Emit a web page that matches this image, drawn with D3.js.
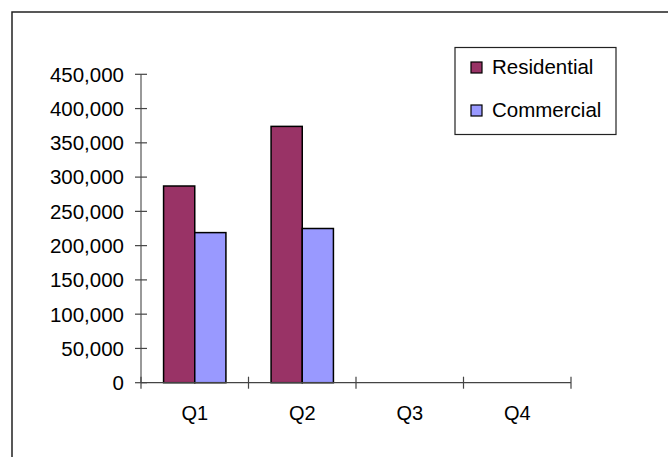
<!DOCTYPE html>
<html><head><meta charset="utf-8">
<script src="https://cdn.jsdelivr.net/npm/d3@7"></script>
<style>body{margin:0;background:#fff}svg{display:block}text{font-family:"Liberation Sans",Arial,sans-serif}</style>
</head><body>
<svg id="c" width="668" height="457"></svg>
<script>
const categories = ["Q1","Q2","Q3","Q4"];
const seriesNames = ["Residential","Commercial"];
const residential = [287000, 374000, null, null];
const commercial = [219000, 225000, null, null];
const yTicks = [0,50000,100000,150000,200000,250000,300000,350000,400000,450000];
const colors = ["#993366","#9999FF"];

const svg = d3.select("#c");
svg.append("rect").attr("x",12).attr("y",12).attr("width",700).attr("height",500)
  .attr("fill","#fff").attr("stroke","#222").attr("stroke-width",1.5);

const x0 = 141, x1 = 571, yTop = 74.3, yBot = 382.7;
const x = d3.scaleBand().domain(categories).range([x0,x1]).paddingInner(0).paddingOuter(0);
const y = d3.scaleLinear().domain([0,450000]).range([yBot,yTop]);
const groupPad = 0.21;
const xs = d3.scaleBand().domain(seriesNames).range([x.bandwidth()*groupPad, x.bandwidth()*(1-groupPad)]);

// y axis
const ya = svg.append("g").attr("transform",`translate(${x0},0)`);
ya.append("line").attr("x1",0).attr("x2",0).attr("y1",y(450000)).attr("y2",y(0)).attr("stroke","#555").attr("stroke-width",1.2);
yTicks.forEach(t=>{
  ya.append("line").attr("x1",-6).attr("x2",6).attr("y1",y(t)).attr("y2",y(t)).attr("stroke","#444").attr("stroke-width",1.2);
  ya.append("text").attr("x",-17).attr("y",y(t)).attr("dy","0.36em").attr("text-anchor","end")
    .attr("font-size",20.5).attr("fill","#000").text(d3.format(",")(t));
});

// bars
const data = [residential, commercial];
seriesNames.forEach((s,si)=>{
  categories.forEach((c,ci)=>{
    const v = data[si][ci];
    if (v==null) return;
    svg.append("rect").attr("x",x(c)+xs(s)).attr("y",y(v)).attr("width",xs.bandwidth()).attr("height",y(0)-y(v))
      .attr("fill",colors[si]).attr("stroke","#000").attr("stroke-width",1.5);
  });
});

// x axis
const xa = svg.append("g");
xa.append("line").attr("x1",x0).attr("x2",x1).attr("y1",yBot).attr("y2",yBot).attr("stroke","#444").attr("stroke-width",1.2);
const bounds = categories.map(c=>x(c)).concat([x1]);
bounds.forEach(b=>{
  xa.append("line").attr("x1",b).attr("x2",b).attr("y1",yBot-6).attr("y2",yBot+6).attr("stroke","#444").attr("stroke-width",1.2);
});
categories.forEach(c=>{
  xa.append("text").attr("x",x(c)+x.bandwidth()/2).attr("y",420).attr("text-anchor","middle")
    .attr("font-size",20).attr("fill","#000").text(c);
});

// legend
const lg = svg.append("g");
lg.append("rect").attr("x",455).attr("y",47.5).attr("width",161).attr("height",87).attr("fill","#fff").attr("stroke","#222").attr("stroke-width",1.2);
seriesNames.forEach((s,i)=>{
  const yy = 62 + i*43;
  lg.append("rect").attr("x",471).attr("y",yy).attr("width",11).attr("height",11).attr("fill",colors[i]).attr("stroke","#000").attr("stroke-width",1.2);
  lg.append("text").attr("x",492).attr("y",yy+11.5).attr("font-size",20.5).attr("fill","#000").text(s);
});
</script>
</body></html>
